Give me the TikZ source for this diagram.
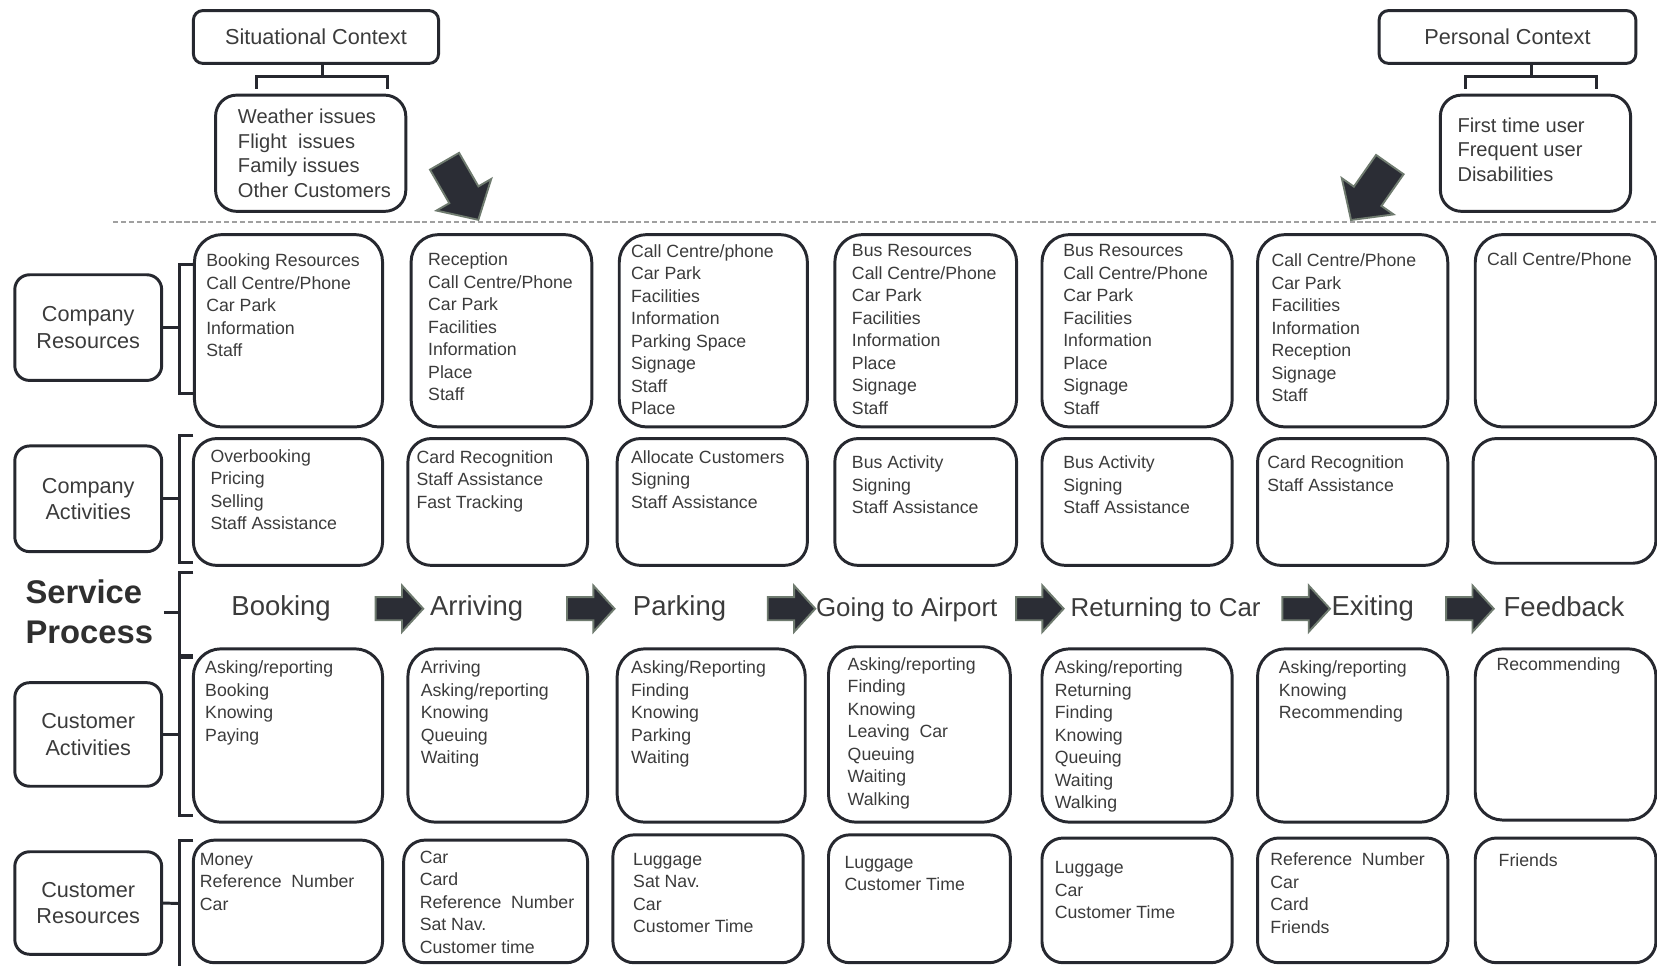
\documentclass[tikz,border=0pt]{standalone}
\usepackage{fontspec}
\setmainfont{Liberation Sans}
\usetikzlibrary{shapes.arrows}
\definecolor{boxline}{HTML}{26282F}
\definecolor{txt}{HTML}{3B3B3B}
\definecolor{arrfill}{HTML}{2B2D35}
\definecolor{arredge}{HTML}{6F7B6F}
\definecolor{dashgray}{HTML}{A0A0A0}
\newcommand{\cellbox}[6]{%
  \node[cellshape, rounded corners=#6pt,
        minimum width={(#4-#2)*1pt}, minimum height={(#5-#3)*1pt}]
        (#1) at ({(#2+#4)/2},{(#3+#5)/2}) {};}
\begin{document}
\begin{tikzpicture}[x=1pt,y=-1pt,
  cellshape/.style={draw=boxline, line width=2.8pt, inner sep=0pt},
  celltext/.style={anchor=north west, inner sep=0pt, align=left, text=txt,
     font=\fontsize{16.75}{21.3}\selectfont},
  labelbox/.style={draw=boxline, line width=2.8pt, rounded corners=14pt, inner sep=0pt,
     minimum width=139pt, align=center, text=txt,
     font=\fontsize{20.5}{25}\selectfont},
  ctxbox/.style={draw=boxline, line width=2.8pt, rounded corners=9pt, inner sep=0pt,
     minimum height=50pt, text=txt, font=\fontsize{20.5}{25}\selectfont},
  ctxtext/.style={anchor=north west, inner sep=0pt, align=left, text=txt,
     font=\fontsize{19}{23.3}\selectfont},
  stage/.style={inner sep=0pt, text=txt, font=\fontsize{26}{30}\selectfont},
  stagelong/.style={stage, font=\fontsize{24.5}{30}\selectfont},
  flowarrow/.style={single arrow, draw=arredge, fill=arrfill, line width=1.8pt,
     inner xsep=0pt, inner ysep=10pt, minimum height=45pt,
     single arrow head extend=11pt, single arrow tip angle=95},
  bigarrow/.style={flowarrow, inner ysep=15pt, minimum height=64pt,
     single arrow head extend=14pt},
  conn/.style={draw=boxline, line width=2.8pt},
  sep/.style={draw=dashgray, line width=1.3pt, dash pattern=on 5pt off 2.5pt}
]
\useasboundingbox (0,0) rectangle (1568,914);

% ---------- context (top) ----------
\node[ctxbox, minimum width=232pt] (sc) at (299,35) {Situational Context};
\cellbox{wx}{204}{90}{384}{200}{20}
\node[ctxtext] (wxt) at (225,103) {Weather issues\\Flight~ issues\\Family issues\\Other Customers};
\node[ctxbox, minimum width=243pt] (pc) at (1426.5,35) {Personal Context};
\cellbox{px}{1363}{90}{1543}{200}{20}
\node[ctxtext] (pxt) at (1379,111) {First time user\\Frequent user\\Disabilities};

\coordinate (scb) at (305,72);
\coordinate (scl) at (243,72); \coordinate (scr) at (367,72);
\coordinate (scld) at (243,84); \coordinate (scrd) at (367,84);
\draw[conn] (sc.south -| scb) -- (scb);
\draw[conn] (scld) -- (scl) -- (scr) -- (scrd);
\coordinate (pcb) at (1449,72);
\coordinate (pcl) at (1387,72); \coordinate (pcr) at (1511,72);
\coordinate (pcld) at (1387,84); \coordinate (pcrd) at (1511,84);
\draw[conn] (pc.south -| pcb) -- (pcb);
\draw[conn] (pcld) -- (pcl) -- (pcr) -- (pcrd);

\node[bigarrow, rotate=-60] (ba1) at (433,174) {};
\node[bigarrow, rotate=-125] (ba2) at (1301,176) {};

\coordinate (dl) at (107,210); \coordinate (dr) at (1568,210);
\draw[sep] (dl) -- (dr);

% ---------- left labels ----------
\node[labelbox, minimum height=100pt] (lcr) at (83.5,310) {Company\\Resources};
\node[labelbox, minimum height=100pt] (lca) at (83.5,472) {Company\\Activities};
\node[anchor=west, inner sep=0pt, align=left, text=txt!80!black,
      font=\bfseries\fontsize{31}{38}\selectfont] (sp) at (24,579) {Service\\Process};
\node[labelbox, minimum height=98pt] (lcua) at (83.5,695) {Customer\\Activities};
\node[labelbox, minimum height=97pt] (lcur) at (83.5,854.5) {Customer\\Resources};

% brackets
\coordinate (b1s) at (170,310); \coordinate (b1t) at (170,250); \coordinate (b1b) at (170,372);
\coordinate (b1tr) at (183,250); \coordinate (b1br) at (183,372);
\draw[conn] (lcr.east) -- (b1s);
\draw[conn] (b1tr) -- (b1t) -- (b1b) -- (b1br);
\coordinate (b2s) at (170,472); \coordinate (b2t) at (170,412); \coordinate (b2b) at (170,532);
\coordinate (b2tr) at (183,412); \coordinate (b2br) at (183,532);
\draw[conn] (lca.east) -- (b2s);
\draw[conn] (b2tr) -- (b2t) -- (b2b) -- (b2br);
\coordinate (b3e) at (155,580); \coordinate (b3s) at (170,580); \coordinate (b3t) at (170,542); \coordinate (b3b) at (170,620);
\coordinate (b3tr) at (183,542); \coordinate (b3br) at (183,620);
\draw[conn] (b3e) -- (b3s);
\draw[conn] (b3tr) -- (b3t) -- (b3b) -- (b3br);
\coordinate (b4s) at (170,695); \coordinate (b4t) at (170,622); \coordinate (b4b) at (170,772);
\coordinate (b4tr) at (183,622); \coordinate (b4br) at (183,772);
\draw[conn] (lcua.east) -- (b4s);
\draw[conn] (b4tr) -- (b4t) -- (b4b) -- (b4br);
\coordinate (b5s) at (170,855); \coordinate (b5t) at (170,795); \coordinate (b5b) at (170,918);
\coordinate (b5tr) at (183,795);
\draw[conn] (lcur.east) -- (b5s);
\draw[conn] (b5tr) -- (b5t) -- (b5b);

% ---------- row 1: company resources ----------
\cellbox{r1c1}{184}{222}{362}{404}{26}
\cellbox{r1c2}{389}{222}{560}{404}{26}
\cellbox{r1c3}{586}{222}{764}{404}{26}
\cellbox{r1c4}{790}{222}{962}{404}{26}
\cellbox{r1c5}{986}{222}{1166}{404}{26}
\cellbox{r1c6}{1190}{222}{1370}{404}{26}
\cellbox{r1c7}{1396}{222}{1567}{404}{26}
\node[celltext] (t11) at (195,240) {Booking Resources\\Call Centre/Phone\\Car Park\\Information\\Staff};
\node[celltext] (t12) at (405,239) {Reception\\Call Centre/Phone\\Car Park\\Facilities\\Information\\Place\\Staff};
\node[celltext] (t13) at (597,231) {Call Centre/phone\\Car Park\\Facilities\\Information\\Parking Space\\Signage\\Staff\\Place};
\node[celltext] (t14) at (806,231) {Bus Resources\\Call Centre/Phone\\Car Park\\Facilities\\Information\\Place\\Signage\\Staff};
\node[celltext] (t15) at (1006,231) {Bus Resources\\Call Centre/Phone\\Car Park\\Facilities\\Information\\Place\\Signage\\Staff};
\node[celltext] (t16) at (1203,240) {Call Centre/Phone\\Car Park\\Facilities\\Information\\Reception\\Signage\\Staff};
\node[celltext] (t17) at (1407,239) {Call Centre/Phone};

% ---------- row 2: company activities ----------
\cellbox{r2c1}{183}{415}{362}{535}{22}
\cellbox{r2c2}{386}{415}{556}{535}{22}
\cellbox{r2c3}{584}{415}{764}{535}{22}
\cellbox{r2c4}{790}{415}{962}{535}{22}
\cellbox{r2c5}{986}{415}{1166}{535}{22}
\cellbox{r2c6}{1190}{415}{1370}{535}{22}
\cellbox{r2c7}{1394}{415}{1567}{533}{22}
\node[celltext] (t21) at (199,425) {Overbooking\\Pricing\\Selling\\Staff Assistance};
\node[celltext] (t22) at (394,426) {Card Recognition\\Staff Assistance\\Fast Tracking};
\node[celltext] (t23) at (597,426) {Allocate Customers\\Signing\\Staff Assistance};
\node[celltext] (t24) at (806,431) {Bus Activity\\Signing\\Staff Assistance};
\node[celltext] (t25) at (1006,431) {Bus Activity\\Signing\\Staff Assistance};
\node[celltext] (t26) at (1199,431) {Card Recognition\\Staff Assistance};

% ---------- service process ----------
\node[stage] (s1) at (266,576) {Booking};
\node[flowarrow] (a1) at (373,576) {};
\node[stage] (s2) at (451,576) {Arriving};
\node[flowarrow] (a2) at (554,576) {};
\node[stage] (s3) at (643,576) {Parking};
\node[flowarrow] (a3) at (744,576) {};
\node[stagelong] (s4) at (858,577) {Going to Airport};
\node[flowarrow] (a4) at (979,576) {};
\node[stagelong] (s5) at (1103,577) {Returning to Car};
\node[flowarrow] (a5) at (1231,576) {};
\node[stage] (s6) at (1299,576) {Exiting};
\node[flowarrow] (a6) at (1386,576) {};
\node[stage] (s7) at (1480,574) {Feedback};

% ---------- row 3: customer activities ----------
\cellbox{r3c1}{183}{614}{362}{778}{26}
\cellbox{r3c2}{386}{614}{556}{778}{26}
\cellbox{r3c3}{584}{614}{762}{778}{26}
\cellbox{r3c4}{784}{612}{956}{778}{26}
\cellbox{r3c5}{986}{614}{1166}{778}{26}
\cellbox{r3c6}{1190}{614}{1370}{778}{26}
\cellbox{r3c7}{1396}{614}{1567}{776}{26}
\node[celltext] (t31) at (194,625) {Asking/reporting\\Booking\\Knowing\\Paying};
\node[celltext] (t32) at (398,625) {Arriving\\Asking/reporting\\Knowing\\Queuing\\Waiting};
\node[celltext] (t33) at (597,625) {Asking/Reporting\\Finding\\Knowing\\Parking\\Waiting};
\node[celltext] (t34) at (802,622) {Asking/reporting\\Finding\\Knowing\\Leaving~ Car\\Queuing\\Waiting\\Walking};
\node[celltext] (t35) at (998,625) {Asking/reporting\\Returning\\Finding\\Knowing\\Queuing\\Waiting\\Walking};
\node[celltext] (t36) at (1210,625) {Asking/reporting\\Knowing\\Recommending};
\node[celltext] (t37) at (1416,622) {Recommending};

% ---------- row 4: customer resources ----------
\cellbox{r4c1}{183}{795}{362}{911}{20}
\cellbox{r4c2}{382}{795}{556}{911}{20}
\cellbox{r4c3}{580}{790}{760}{911}{20}
\cellbox{r4c4}{784}{790}{956}{911}{20}
\cellbox{r4c5}{986}{793}{1166}{911}{20}
\cellbox{r4c6}{1190}{793}{1370}{911}{20}
\cellbox{r4c7}{1396}{793}{1567}{911}{20}
\node[celltext] (t41) at (189,807) {Money\\Reference~ Number\\Car};
\node[celltext] (t42) at (397,805) {Car\\Card\\Reference~ Number\\Sat Nav.\\Customer time};
\node[celltext] (t43) at (599,807) {Luggage\\Sat Nav.\\Car\\Customer Time};
\node[celltext] (t44) at (799,810) {Luggage\\Customer Time};
\node[celltext] (t45) at (998,815) {Luggage\\Car\\Customer Time};
\node[celltext] (t46) at (1202,807) {Reference~ Number\\Car\\Card\\Friends};
\node[celltext] (t47) at (1418,808) {Friends};
\end{tikzpicture}
\end{document}
